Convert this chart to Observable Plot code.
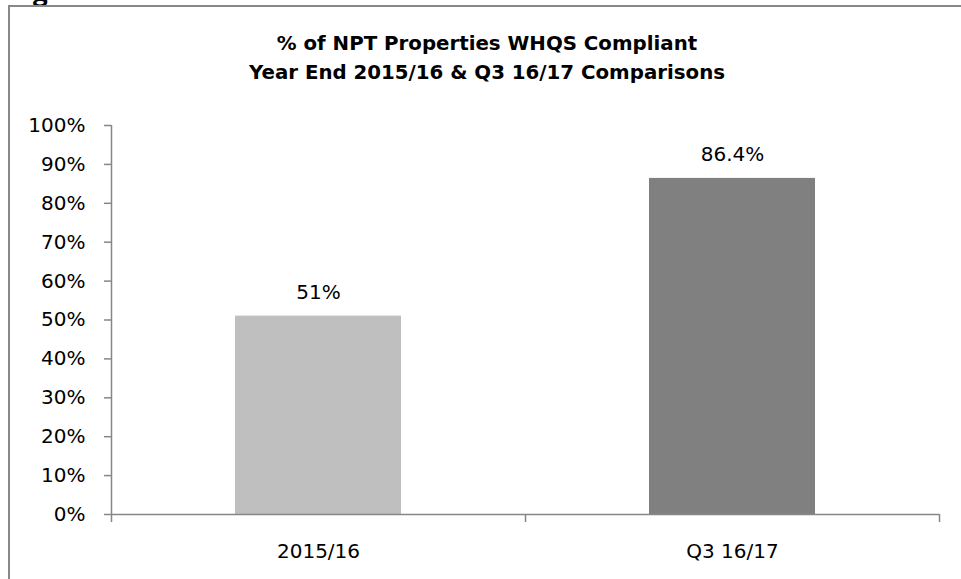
<!DOCTYPE html>
<html>
<head>
<meta charset="utf-8">
<script src="https://cdn.jsdelivr.net/npm/d3@7"></script>
<script src="https://cdn.jsdelivr.net/npm/@observablehq/plot@0.6"></script>
<style>
  html, body { margin: 0; padding: 0; background: #fff; overflow: hidden; width: 961px; height: 579px; }
  #wrap { position: relative; width: 961px; height: 579px; }
  #frame { position: absolute; left: 8px; top: 5px; width: 2000px; height: 2000px; border-left: 2px solid #888; border-top: 2px solid #888; }
  #head { position: absolute; left: 33px; top: -27px; font: bold 26px "Open Sans", sans-serif; color: #000; }
  #title { position: absolute; left: 0; width: 974px; top: 29px; text-align: center; font: bold 19.8px "DejaVu Sans", sans-serif; line-height: 29px; color: #000; }
  #chart { position: absolute; left: 0; top: 0; }
</style>
</head>
<body>
<div id="wrap">
  <div id="head">g</div>
  <div id="frame"></div>
  <div id="chart"></div>
  <div id="title">% of NPT Properties WHQS Compliant<br>Year End 2015/16 &amp; Q3 16/17 Comparisons</div>
</div>
<script>
const categories = ["2015/16", "Q3 16/17"];
const values = [51, 86.4];
const valueLabels = ["51%", "86.4%"];
const barColors = ["#BFBFBF", "#808080"];
const yTicks = [0, 10, 20, 30, 40, 50, 60, 70, 80, 90, 100];

const data = categories.map((c, i) => ({i, category: c, value: values[i], label: valueLabels[i], color: barColors[i]}));
const axisGray = "#868686";
const fs = 20;

const chart = Plot.plot({
  width: 961,
  height: 579,
  marginLeft: 111,
  marginRight: 22,
  marginTop: 125,
  marginBottom: 65,
  style: {fontFamily: "DejaVu Sans, sans-serif", fontSize: fs + "px", color: "#000", background: "transparent", overflow: "visible"},
  x: {domain: [0, categories.length]},
  y: {domain: [0, 100]},
  marks: [
    Plot.rectY(data, {x1: d => d.i, x2: d => d.i + 1, y: "value", fill: d => d.color, insetLeft: 124, insetRight: 124}),
    Plot.text(data, {x: d => d.i + 0.5, y: "value", text: "label", dy: -24, fontSize: fs, fill: "#000"}),
    Plot.axisY({ticks: yTicks, tickFormat: d => d + "%", tickSize: 7, tickPadding: 19, stroke: axisGray, strokeWidth: 1.5, fontSize: fs, label: null}),
    Plot.ruleX([0], {stroke: axisGray, strokeWidth: 1.5}),
    Plot.axisX({ticks: d3.range(categories.length + 1), tickSize: 8, tickFormat: () => "", stroke: axisGray, strokeWidth: 1.5, label: null}),
    Plot.axisX({ticks: categories.map((c, i) => i + 0.5), tickSize: 0, tickPadding: 29, tickFormat: d => categories[Math.floor(d)], fontSize: fs, label: null}),
    Plot.ruleY([0], {stroke: axisGray, strokeWidth: 1.5})
  ]
});
document.getElementById("chart").appendChild(chart);
</script>
</body>
</html>
